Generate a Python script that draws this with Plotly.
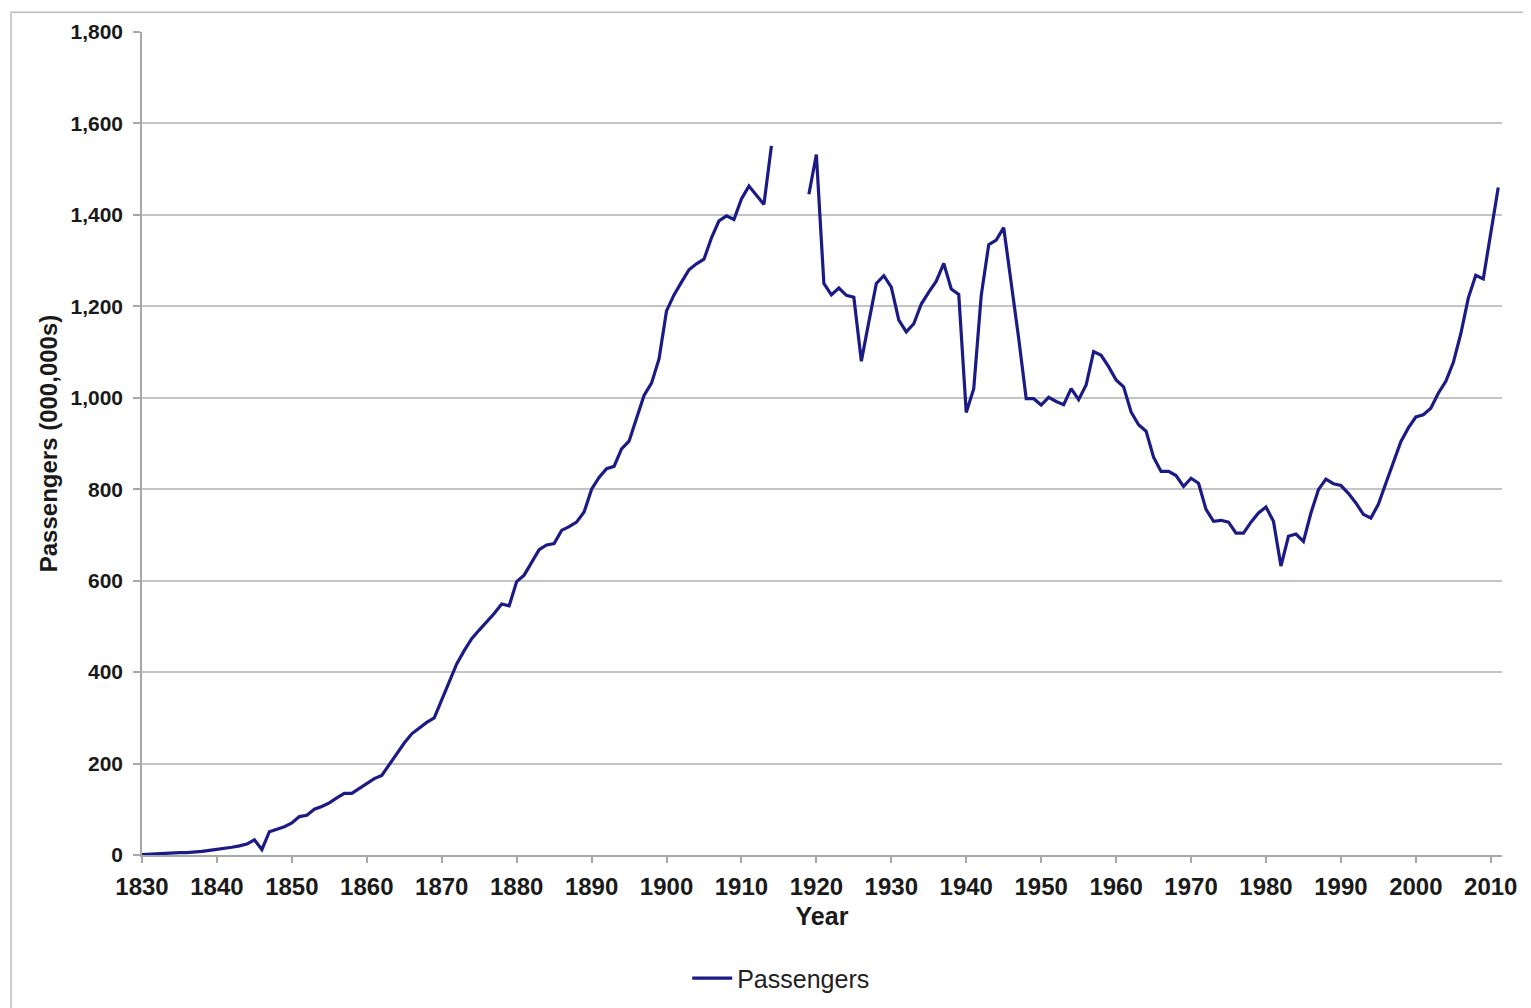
import plotly.graph_objects as go

years_a = list(range(1830, 1915))
passengers_a = [
    1, 2, 2, 3, 4, 5, 5, 6, 8, 10,            # 1830-1839
    12, 14, 17, 20, 24, 33, 12, 51, 57, 62,   # 1840-1849
    70, 84, 87, 100, 106, 114, 125, 135, 135, 146,  # 1850-1859
    158, 167, 174, 198, 222, 245, 265, 278, 290, 300,  # 1860-1869
    340, 380, 418, 447, 473, 492, 510, 528, 549, 545,  # 1870-1879
    598, 612, 640, 668, 678, 681, 710, 718, 728, 750,  # 1880-1889
    800, 826, 845, 850, 888, 905, 955, 1005, 1032, 1085,  # 1890-1899
    1190, 1225, 1253, 1280, 1293, 1303, 1350, 1387, 1398, 1390,  # 1900-1909
    1435, 1463, 1443, 1423, 1551,              # 1910-1914
]
years_gap = [1915, 1916, 1917, 1918]
years_b = list(range(1919, 2012))
passengers_b = [
    1445,                                       # 1919
    1532, 1250, 1225, 1240, 1224, 1220, 1080, 1166, 1250, 1267,  # 1920-1929
    1242, 1170, 1144, 1162, 1205, 1231, 1255, 1294, 1238, 1226,  # 1930-1939
    968, 1020, 1224, 1335, 1345, 1372, 1255, 1130, 998, 998,     # 1940-1949
    984, 1001, 992, 985, 1020, 996, 1028, 1101, 1093, 1068,      # 1950-1959
    1039, 1024, 969, 941, 927, 870, 839, 839, 830, 806,          # 1960-1969
    824, 813, 756, 730, 732, 728, 704, 704, 728, 748,            # 1970-1979
    761, 730, 632, 697, 702, 686, 748, 799, 822, 812,            # 1980-1989
    808, 791, 770, 745, 737, 767, 813, 860, 904, 934,            # 1990-1999
    958, 963, 977, 1010, 1036, 1077, 1140, 1218, 1268, 1260,     # 2000-2009
    1360, 1460,                                                  # 2010-2011
]

years = years_a + years_gap + years_b
passengers = passengers_a + [None] * len(years_gap) + passengers_b

y_ticks = list(range(0, 1801, 200))
x_ticks = list(range(1830, 2011, 10))

FONT = "Liberation Sans, Arial, sans-serif"
LINE = "#1b1b86"
GRID = "#c4c4c4"

fig = go.Figure()
fig.add_trace(go.Scatter(
    x=years, y=passengers, mode="lines", name="Passengers",
    line=dict(color=LINE, width=3.2), connectgaps=False,
))

fig.update_layout(
    width=1531, height=1008,
    paper_bgcolor="white", plot_bgcolor="white",
    margin=dict(l=134, r=37, t=18, b=161),
    font=dict(family=FONT, color="#1a1a1a"),
    showlegend=True,
    legend=dict(
        orientation="h", x=0.47, xanchor="center", y=-0.15, yanchor="middle",
        font=dict(family=FONT, size=25, color="#222222"),
        itemwidth=40,
    ),
    xaxis=dict(
        range=[1830, 2011.5],
        tickvals=x_ticks,
        ticktext=[str(v) for v in x_ticks],
        showgrid=False, zeroline=False,
        showline=True, linecolor="#a8a8a8", linewidth=1.5,
        ticks="outside", ticklen=6, tickcolor="#a8a8a8", tickwidth=1.5,
        ticklabelstandoff=3,
        tickfont=dict(family=FONT, size=24, color="#1a1a1a", weight="bold"),
        title=dict(text="Year", standoff=9,
                   font=dict(family=FONT, size=25, color="#1a1a1a", weight="bold")),
    ),
    yaxis=dict(
        range=[0, 1800],
        tickvals=y_ticks,
        ticktext=[f"{v:,}" for v in y_ticks],
        showgrid=True, gridcolor=GRID, gridwidth=1.5,
        zeroline=False,
        showline=True, linecolor="#a8a8a8", linewidth=1.5,
        ticks="outside", ticklen=7, tickcolor="#a8a8a8", tickwidth=1.5,
        ticklabelstandoff=6,
        tickfont=dict(family=FONT, size=21, color="#1a1a1a", weight="bold"),
        title=dict(text="Passengers (000,000s)", standoff=6,
                   font=dict(family=FONT, size=24, color="#1a1a1a", weight="bold")),
    ),
    shapes=[dict(
        type="rect", xref="paper", yref="paper",
        x0=-0.0963, x1=1.05, y0=-0.25, y1=1.0239,
        line=dict(color="#bdbdbd", width=1.5), fillcolor="rgba(0,0,0,0)",
        layer="below",
    )],
)

fig.write_html("out.html")
